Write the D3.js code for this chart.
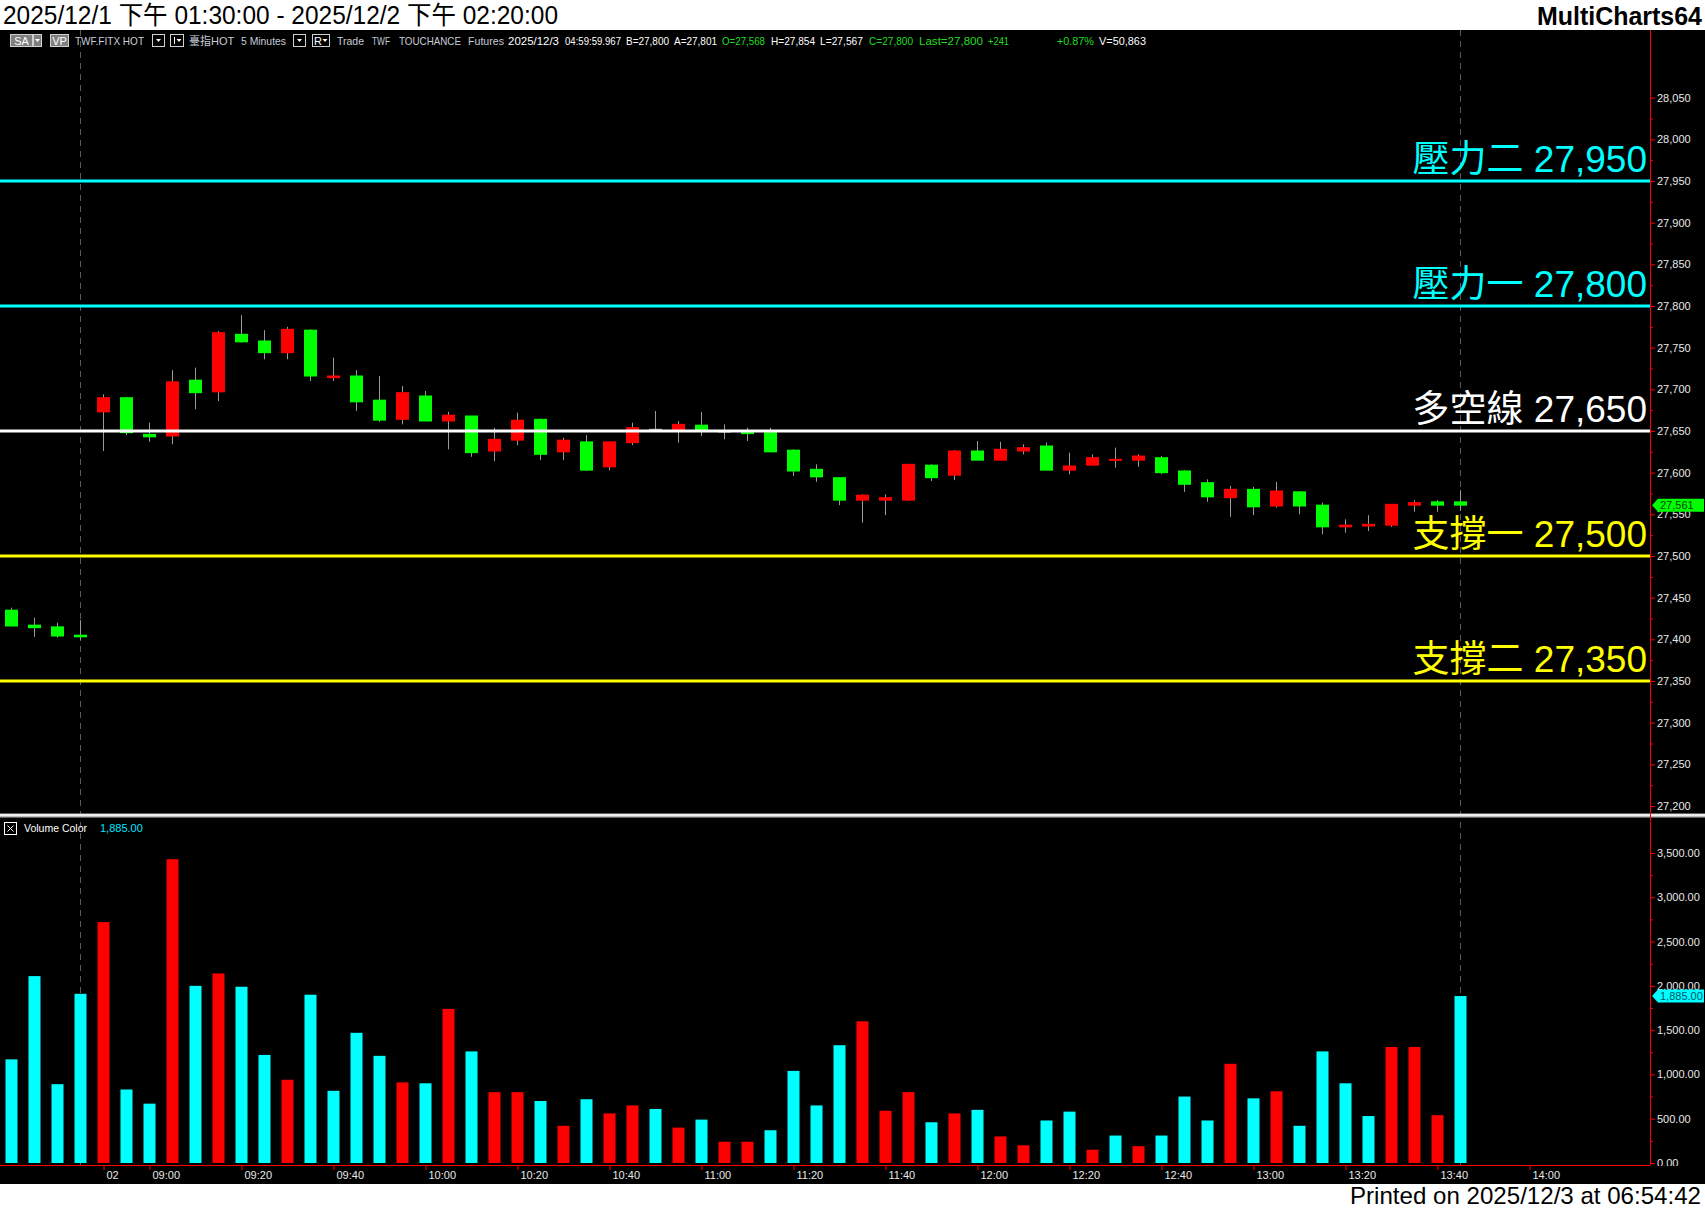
<!DOCTYPE html>
<html>
<head>
<meta charset="utf-8">
<script src="https://cdn.jsdelivr.net/npm/d3@7"></script>
<style>
body { margin: 0; background: #fff; overflow: hidden; }
svg { display: block; }
</style>
</head>
<body>
<div id="chart"></div>
<script>
// 5 minute bars: 12/1 13:30-13:45, then 12/2 08:50-13:45 (bar close time)
var times = ["13:30", "13:35", "13:40", "13:45",
    "08:50", "08:55", "09:00", "09:05", "09:10", "09:15", "09:20", "09:25", "09:30", "09:35",
    "09:40", "09:45", "09:50", "09:55", "10:00", "10:05", "10:10", "10:15", "10:20", "10:25",
    "10:30", "10:35", "10:40", "10:45", "10:50", "10:55", "11:00", "11:05", "11:10", "11:15",
    "11:20", "11:25", "11:30", "11:35", "11:40", "11:45", "11:50", "11:55", "12:00", "12:05",
    "12:10", "12:15", "12:20", "12:25", "12:30", "12:35", "12:40", "12:45", "12:50", "12:55",
    "13:00", "13:05", "13:10", "13:15", "13:20", "13:25", "13:30", "13:35", "13:40", "13:45"];

var open = [27435, 27417, 27415, 27405,
    27673, 27690, 27646, 27644, 27711, 27697, 27766, 27758, 27744, 27771,
    27714, 27716, 27687, 27664, 27692, 27662, 27668, 27626, 27639, 27664,
    27625, 27637, 27607, 27636, 27652, 27651, 27657, 27650, 27648, 27648,
    27627, 27604, 27594, 27567, 27567, 27567, 27609, 27597, 27626, 27615,
    27626, 27632, 27603, 27609, 27615, 27615, 27618, 27602, 27588, 27570,
    27580, 27560, 27577, 27561, 27535, 27536, 27537, 27561, 27565, 27565];

var high = [27438, 27426, 27420, 27423,
    27694, 27691, 27660, 27723, 27726, 27770, 27789, 27771, 27775, 27772,
    27738, 27723, 27716, 27704, 27698, 27673, 27668, 27654, 27672, 27665,
    27642, 27645, 27637, 27660, 27674, 27662, 27673, 27658, 27654, 27654,
    27628, 27610, 27594, 27574, 27574, 27610, 27610, 27627, 27638, 27637,
    27634, 27636, 27624, 27622, 27630, 27622, 27620, 27603, 27592, 27584,
    27583, 27589, 27578, 27564, 27544, 27549, 27562, 27567, 27567, 27579];

var low = [27416, 27403, 27402, 27399,
    27626, 27645, 27637, 27634, 27676, 27686, 27756, 27736, 27736, 27710,
    27710, 27674, 27661, 27658, 27662, 27628, 27619, 27614, 27633, 27615,
    27615, 27602, 27603, 27633, 27651, 27636, 27644, 27640, 27638, 27625,
    27596, 27589, 27561, 27540, 27549, 27566, 27590, 27591, 27615, 27615,
    27622, 27603, 27598, 27609, 27606, 27607, 27598, 27577, 27565, 27547,
    27549, 27558, 27550, 27526, 27528, 27530, 27535, 27553, 27553, 27554];

var close = [27416, 27414, 27404, 27403,
    27690, 27648, 27643, 27709, 27696, 27768, 27757, 27744, 27772, 27716,
    27716, 27685, 27663, 27696, 27662, 27669, 27624, 27640, 27663, 27622,
    27639, 27603, 27637, 27654, 27652, 27658, 27650, 27650, 27647, 27625,
    27602, 27595, 27567, 27573, 27570, 27610, 27594, 27626, 27615, 27628,
    27630, 27603, 27608, 27618, 27616, 27620, 27600, 27586, 27571, 27580,
    27559, 27578, 27560, 27535, 27537, 27538, 27562, 27564, 27561, 27561];

var volume = [1170, 2110, 890, 1910,
    2720, 830, 670, 3430, 2000, 2140, 1990, 1220, 940, 1900,
    815, 1470, 1210, 910, 900, 1740, 1260, 800, 800, 700,
    420, 720, 560, 650, 610, 400, 490, 240, 240, 370,
    1040, 650, 1330, 1600, 590, 800, 460, 560, 600, 300,
    200, 480, 580, 150, 310, 190, 310, 750, 480, 1120,
    730, 810, 420, 1260, 900, 530, 1310, 1310, 540, 1885];

// volume colour as shown: 1 = up (red), 0 = down (cyan)
var volUp = [0, 0, 0, 0,
    1, 0, 0, 1, 0, 1, 0, 0, 1, 0,
    0, 0, 0, 1, 0, 1, 0, 1, 1, 0,
    1, 0, 1, 1, 0, 1, 0, 1, 1, 0,
    0, 0, 0, 1, 1, 1, 0, 1, 0, 1,
    1, 0, 0, 1, 0, 1, 0, 0, 0, 1,
    0, 1, 0, 0, 0, 0, 1, 1, 1, 0];

// key levels drawn across the price pane
var levels = [27950, 27800, 27650, 27500, 27350];
var levelNames = ["壓力二", "壓力一", "多空線", "支撐一", "支撐二"];
var levelColors = ["#00ffff", "#00ffff", "#ffffff", "#ffff00", "#ffff00"];

// time axis: bar index of each label
var timeTickIdx = [4, 6, 10, 14, 18, 22, 26, 30, 34, 38, 42, 46, 50, 54, 58, 62, 66];
var timeTickText = ["02", "09:00", "09:20", "09:40", "10:00", "10:20", "10:40", "11:00", "11:20",
    "11:40", "12:00", "12:20", "12:40", "13:00", "13:20", "13:40", "14:00"];

var lastPrice = 27561;
var lastVolume = 1885;

var W = 1705, H = 1211;
var axisX = 1650;
var fontUI = "'Liberation Sans', Arial, 'Noto Sans CJK TC', sans-serif";

var svg = d3.select("#chart").append("svg")
    .attr("width", W)
    .attr("height", H)
    .style("font-family", fontUI);

svg.append("rect").attr("width", W).attr("height", H).attr("fill", "#fff");
svg.append("rect").attr("x", 0).attr("y", 30).attr("width", W).attr("height", 1154).attr("fill", "#000");

var x = d3.scaleLinear().domain([0, 66]).range([11, 1529]);
var yP = d3.scaleLinear().domain([27200, 28050]).range([806, 97.67]);
var yV = d3.scaleLinear().domain([0, 3500]).range([1163, 853]);

// title strip
svg.append("text").attr("x", 3).attr("y", 24)
    .attr("font-size", 25).attr("fill", "#000")
    .attr("textLength", 555).attr("lengthAdjust", "spacingAndGlyphs")
    .text("2025/12/1 下午 01:30:00 - 2025/12/2 下午 02:20:00");

svg.append("text").attr("x", 1702).attr("y", 25)
    .attr("text-anchor", "end").attr("font-size", 25).attr("font-weight", "bold")
    .attr("textLength", 165).attr("lengthAdjust", "spacingAndGlyphs")
    .text("MultiCharts64");

// header line of the chart window
var hdr = svg.append("g").attr("font-size", 11);

function hbox(x0, w, fill, label) {
    hdr.append("rect").attr("x", x0 + 0.5).attr("y", 34.5).attr("width", w).attr("height", 12)
        .attr("fill", fill).attr("stroke", "#d0d0d0");
    if (label) {
        hdr.append("text").attr("x", x0 + w / 2 + 0.5).attr("y", 44.5)
            .attr("text-anchor", "middle").attr("fill", "#fff").text(label);
    }
}
function hdrop(x0) {
    hdr.append("path")
        .attr("d", "M" + (x0 - 2.5) + ",39 l5,0 l-2.5,3 z")
        .attr("fill", "#fff");
}

hbox(10, 22, "#808080", "SA");
hbox(33, 8, "#808080");
hdrop(37.5);
hbox(50, 18, "#808080", "VP");
hbox(152, 12, "#000");
hdrop(158.5);
hbox(170, 13, "#000");
hdr.append("line").attr("x1", 174.5).attr("x2", 174.5).attr("y1", 37).attr("y2", 44).attr("stroke", "#fff");
hdrop(179);
hbox(293, 12, "#000");
hdrop(299.5);
hbox(312, 17, "#000");
hdr.append("text").attr("x", 314).attr("y", 44.5).attr("fill", "#fff").text("R");
hdrop(325);

// [left, right, text, colour]; right = 0 keeps the natural width
var hdrText = [
    [75, 144, "TWF.FITX HOT", "#c8ccd8"],
    [189, 0, "臺指HOT", "#c8ccd8"],
    [241, 286, "5 Minutes", "#c8ccd8"],
    [337, 364, "Trade", "#c8ccd8"],
    [372, 390, "TWF", "#c8ccd8"],
    [399, 461, "TOUCHANCE", "#c8ccd8"],
    [468, 504, "Futures", "#c8ccd8"],
    [508, 559, "2025/12/3", "#fff"],
    [565, 621, "04:59:59.967", "#fff"],
    [626, 669, "B=27,800", "#fff"],
    [674, 717, "A=27,801", "#fff"],
    [722, 765, "O=27,568", "#22dd22"],
    [771, 815, "H=27,854", "#fff"],
    [820, 863, "L=27,567", "#fff"],
    [869, 913, "C=27,800", "#22dd22"],
    [919, 983, "Last=27,800", "#22dd22"],
    [988, 1009, "+241", "#22dd22"],
    [1057, 1094, "+0.87%", "#22dd22"],
    [1099, 1146, "V=50,863", "#fff"]
];
hdr.selectAll("text.h").data(hdrText).enter().append("text")
    .attr("class", "h")
    .attr("x", function (d) { return d[0]; })
    .attr("y", 45)
    .attr("fill", function (d) { return d[3]; })
    .text(function (d) { return d[2]; })
    .each(function (d) {
        if (d[1] > 0) {
            d3.select(this).attr("textLength", d[1] - d[0]).attr("lengthAdjust", "spacingAndGlyphs");
        }
    });

// session break and last bar markers
svg.selectAll("line.sess").data([3, 63]).enter().append("line")
    .attr("class", "sess")
    .attr("x1", function (d) { return Math.round(x(d)) + 0.5; })
    .attr("x2", function (d) { return Math.round(x(d)) + 0.5; })
    .attr("y1", 30).attr("y2", 1165)
    .attr("stroke", "#5a5a5a").attr("stroke-dasharray", "6,5");

// candles
var idx = d3.range(open.length);
var candles = svg.append("g");

candles.selectAll("line.wick").data(idx).enter().append("line")
    .attr("class", "wick")
    .attr("x1", function (i) { return Math.round(x(i)) + 0.5; })
    .attr("x2", function (i) { return Math.round(x(i)) + 0.5; })
    .attr("y1", function (i) { return yP(high[i]); })
    .attr("y2", function (i) { return yP(low[i]); })
    .attr("stroke", "#9a9a9a").attr("stroke-width", 1);

candles.selectAll("rect.body").data(idx).enter().append("rect")
    .attr("class", "body")
    .attr("x", function (i) { return Math.round(x(i)) - 6; })
    .attr("width", 13)
    .attr("y", function (i) { return Math.min(yP(open[i]), yP(close[i])) - 0.5; })
    .attr("height", function (i) { return Math.max(2, Math.abs(yP(open[i]) - yP(close[i])) + 1); })
    .attr("fill", function (i) {
        if (close[i] > open[i]) return "#ff0000";
        if (close[i] < open[i]) return "#00ff00";
        return "#b0b0b0";
    });

// level lines and captions
var lv = svg.append("g");
lv.selectAll("line").data(levels).enter().append("line")
    .attr("x1", 0).attr("x2", axisX)
    .attr("y1", function (d) { return yP(d); })
    .attr("y2", function (d) { return yP(d); })
    .attr("stroke", function (d, i) { return levelColors[i]; })
    .attr("stroke-width", 3);

lv.selectAll("text").data(levels).enter().append("text")
    .attr("x", axisX - 3)
    .attr("y", function (d) { return yP(d) - 9; })
    .attr("text-anchor", "end")
    .attr("font-size", 37)
    .attr("fill", function (d, i) { return levelColors[i]; })
    .text(function (d, i) { return levelNames[i] + " " + d3.format(",")(d); });

// pane separator
svg.append("rect").attr("x", 0).attr("y", 813.5).attr("width", W).attr("height", 4).attr("fill", "#bdbdbd");
svg.append("line").attr("x1", 0).attr("x2", W).attr("y1", 815).attr("y2", 815).attr("stroke", "#fff").attr("stroke-width", 1.5);

// volume bars
svg.append("g").selectAll("rect").data(idx).enter().append("rect")
    .attr("x", function (i) { return Math.round(x(i)) - 5.5; })
    .attr("width", 12)
    .attr("y", function (i) { return yV(volume[i]); })
    .attr("height", function (i) { return yV(0) - yV(volume[i]); })
    .attr("fill", function (i) { return volUp[i] ? "#ff0000" : "#00ffff"; });

// volume legend
var leg = svg.append("g");
leg.append("rect").attr("x", 4.5).attr("y", 822.5).attr("width", 12).attr("height", 12)
    .attr("fill", "none").attr("stroke", "#fff");
leg.append("path").attr("d", "M7.5,825.5 L13.5,831.5 M13.5,825.5 L7.5,831.5").attr("stroke", "#fff");
leg.append("text").attr("x", 24).attr("y", 832).attr("font-size", 11).attr("fill", "#fff")
    .attr("textLength", 63).attr("lengthAdjust", "spacingAndGlyphs").text("Volume Color");
leg.append("text").attr("x", 100).attr("y", 832).attr("font-size", 11).attr("fill", "#00e5ff")
    .text(d3.format(",.2f")(lastVolume));

// price axis
function styleAxis(g) {
    g.select(".domain").remove();
    g.selectAll(".tick line").attr("stroke", "#ff0000");
    g.selectAll(".tick text").attr("fill", "#e8e8e8").attr("font-size", 11).attr("font-family", fontUI);
}

svg.append("g").attr("transform", "translate(" + axisX + ",0)")
    .call(d3.axisRight(yP).tickValues(d3.range(27225, 28050, 50)).tickSize(3).tickFormat(""))
    .call(styleAxis);
svg.append("g").attr("transform", "translate(" + axisX + ",0)")
    .call(d3.axisRight(yP).tickValues(d3.range(27200, 28051, 50)).tickSize(5).tickPadding(2)
        .tickFormat(d3.format(",")))
    .call(styleAxis);

// volume axis (bottom label is cut by the time axis strip)
svg.append("clipPath").attr("id", "vclip").append("rect")
    .attr("x", -2).attr("y", 820).attr("width", 60).attr("height", 346);
svg.append("g").attr("transform", "translate(" + axisX + ",0)")
    .call(d3.axisRight(yV).tickValues(d3.range(250, 3600, 500)).tickSize(3).tickFormat(""))
    .call(styleAxis);
svg.append("g").attr("transform", "translate(" + axisX + ",0)")
    .attr("clip-path", "url(#vclip)")
    .call(d3.axisRight(yV).tickValues(d3.range(0, 3501, 500)).tickSize(5).tickPadding(2)
        .tickFormat(d3.format(",.2f")))
    .call(styleAxis);

// time axis
var tAxis = svg.append("g").attr("transform", "translate(0,1165)")
    .call(d3.axisBottom(x).tickValues(timeTickIdx).tickSize(5).tickPadding(1)
        .tickFormat(function (d, i) { return timeTickText[i]; }))
    .call(styleAxis);
tAxis.selectAll(".tick line").attr("transform", "translate(0.5,0)");
tAxis.selectAll(".tick text").attr("text-anchor", "start").attr("x", 3);

// axis frame lines
svg.append("line").attr("x1", axisX + 0.5).attr("x2", axisX + 0.5).attr("y1", 30).attr("y2", 1165.5)
    .attr("stroke", "#ff0000");
svg.append("line").attr("x1", 0).attr("x2", axisX).attr("y1", 1165.5).attr("y2", 1165.5)
    .attr("stroke", "#ff0000");

// last value tags
function tag(y, fill, label, ink) {
    var g = svg.append("g");
    g.append("path")
        .attr("d", "M" + (axisX + 2) + "," + y + " L" + (axisX + 8) + "," + (y - 6.5) +
            " L1704," + (y - 6.5) + " L1704," + (y + 6.5) + " L" + (axisX + 8) + "," + (y + 6.5) + " Z")
        .attr("fill", fill);
    g.append("text").attr("x", axisX + 10).attr("y", y + 4)
        .attr("font-size", 11).attr("fill", ink).text(label);
}
tag(yP(lastPrice), "#00ff00", d3.format(",")(lastPrice), "#004400");
tag(yV(lastVolume), "#00ffff", d3.format(",.2f")(lastVolume), "#005566");

// footer
svg.append("text").attr("x", 1701).attr("y", 1204)
    .attr("text-anchor", "end").attr("font-size", 24).attr("fill", "#000")
    .attr("textLength", 351).attr("lengthAdjust", "spacingAndGlyphs")
    .text("Printed on 2025/12/3 at 06:54:42");
</script>
</body>
</html>
